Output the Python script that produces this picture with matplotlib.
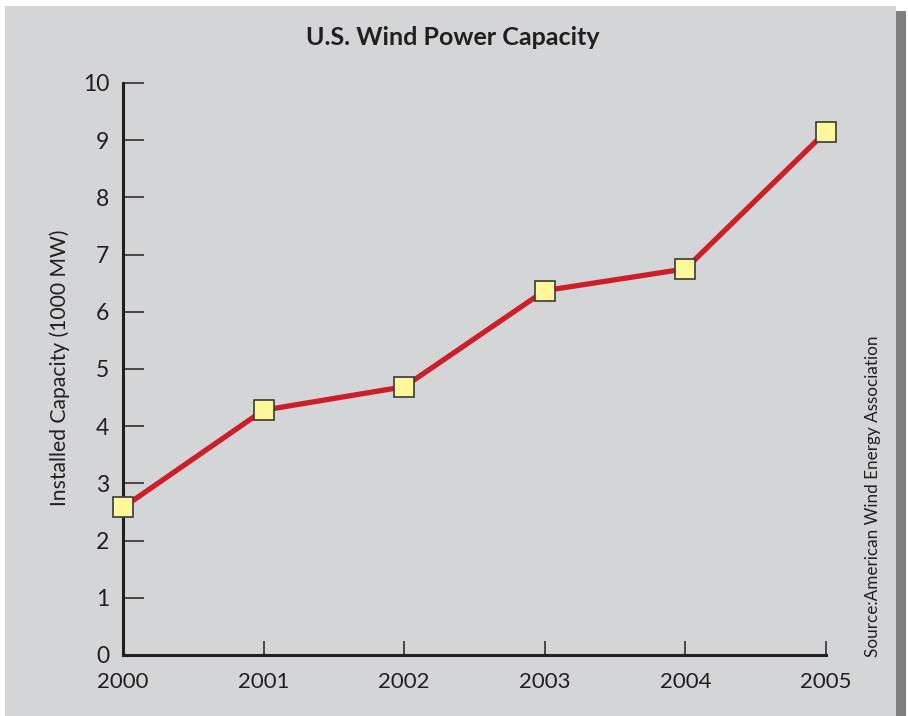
import matplotlib.pyplot as plt
from matplotlib.patches import Rectangle

# Installed U.S. wind capacity, thousands of MW
years = [2000, 2001, 2002, 2003, 2004, 2005]
capacity = [2.58, 4.28, 4.69, 6.37, 6.75, 9.15]
yticks = list(range(0, 11))

bg = '#d4d5d7'
ink = '#231f20'

plt.rcParams['font.family'] = ['Lato', 'DejaVu Sans']

fig = plt.figure(figsize=(9.08, 7.16), dpi=100)
fig.patch.set_facecolor('white')

# grey panel with a dark shadow strip down the right edge
fig.patches.append(Rectangle((0.9855, 0.0), 0.012, 0.985, transform=fig.transFigure,
                             facecolor='#7d7e80', edgecolor='none', zorder=-2))
fig.patches.append(Rectangle((0.006, 0.0), 0.981, 0.992, transform=fig.transFigure,
                             facecolor=bg, edgecolor='none', zorder=-1))

ax = fig.add_axes([0.1355, 0.0852, 0.7742, 0.7989])
ax.set_zorder(2)
ax.set_facecolor('none')

ax.plot(years, capacity, color='#cc1f29', lw=3.8, zorder=3, solid_capstyle='butt')
ax.plot(years, capacity, ls='none', marker='s', ms=14, mfc='#fff799',
        mec='#3a3a3a', mew=1.2, zorder=4, clip_on=False)

ax.set_xlim(2000, 2005)
ax.set_ylim(0, 10)
ax.set_xticks(years)
ax.set_yticks(yticks)

for s in ['top', 'right']:
    ax.spines[s].set_visible(False)
for s in ['left', 'bottom']:
    ax.spines[s].set_linewidth(2.2)
    ax.spines[s].set_color(ink)

ax.tick_params(axis='y', direction='in', length=15, width=1.1, color=ink,
               labelsize=16.5, labelcolor=ink, pad=10)
ax.tick_params(axis='x', direction='in', length=10, width=1.1, color=ink,
               labelsize=16, labelcolor=ink, pad=12)

fig.text(0.066, 0.486, 'Installed Capacity (1000 MW)', rotation=90,
         ha='center', va='center', fontsize=15.2, color=ink)
fig.text(0.499, 0.948, 'U.S. Wind Power Capacity', ha='center', va='center',
         fontsize=18, fontweight='bold', color=ink)
fig.text(0.961, 0.083, 'Source:American Wind Energy Association', rotation=90,
         ha='center', va='bottom', fontsize=12.3, color=ink)

fig.savefig('out.png', dpi=100, facecolor=fig.get_facecolor())
